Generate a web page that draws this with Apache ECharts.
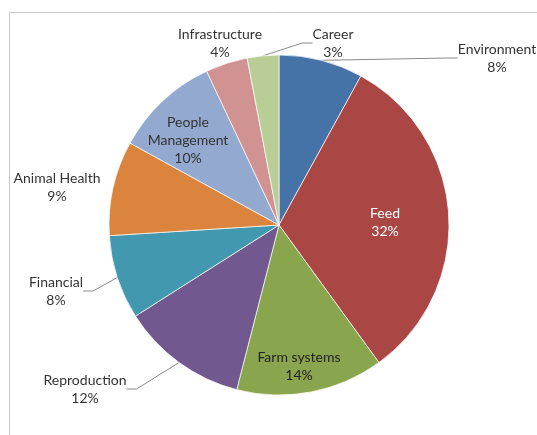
<!DOCTYPE html>
<html>
<head>
<meta charset="utf-8">
<script src="https://cdn.jsdelivr.net/npm/echarts@6/dist/echarts.min.js"></script>
<style>
html,body{margin:0;padding:0;background:#fff;}
#c{width:537px;height:435px;}
</style>
</head>
<body>
<div id="c"></div>
<script>
const categories = ['Environment','Feed','Farm systems','Reproduction','Financial','Animal Health','People Management','Infrastructure','Career'];
const values = [8,32,14,12,8,9,10,4,3];
const labelText = ['Environment','Feed','Farm systems','Reproduction','Financial','Animal Health','People\nManagement','Infrastructure','Career'];

const colors = ['#4572A7','#AA4643','#89A54E','#71588F','#4198AF','#DB843D','#93A9CF','#D19392','#B9CD96'];
const labelPos = [[497,58],[385,222],[299,366],[85,389],[56,291],[57,187],[188,140],[220,43],[333,43]];
const showLine = [true,false,false,true,true,false,false,false,true];
const insideColor = ['#333333','#ffffff','#222222','#333333','#333333','#333333','#333333','#333333','#333333'];

const chart = echarts.init(document.getElementById('c'));
chart.setOption({
  animation:false,
  color: colors,
  graphic:[{type:'rect',shape:{x:9.5,y:12.5,width:600,height:500},style:{fill:'none',stroke:'#c8c8c8',lineWidth:1},silent:true}],
  series:[{
    type:'pie',
    center:[279,225],
    radius:170,
    startAngle:90,
    clockwise:true,
    avoidLabelOverlap:false,
    itemStyle:{borderColor:'#ffffff',borderWidth:0.7},
    label:{
      show:true,
      position:'outside',
      fontFamily:'Lato',
      fontSize:14,
      lineHeight:18,
      align:'center',
      formatter:function(p){return labelText[p.dataIndex]+'\n'+p.value+'%';}
    },
    labelLine:{show:true,length:10,length2:10,lineStyle:{color:'#8a8a8a',width:1}},
    labelLayout:function(p){
      const pos = labelPos[p.dataIndex];
      return {x:pos[0],y:pos[1],align:'center',verticalAlign:'middle'};
    },
    data: categories.map(function(c,i){
      return {
        name:c,
        value:values[i],
        label:{color:insideColor[i]},
        labelLine:{show:showLine[i]}
      };
    })
  }]
});
</script>
</body>
</html>
